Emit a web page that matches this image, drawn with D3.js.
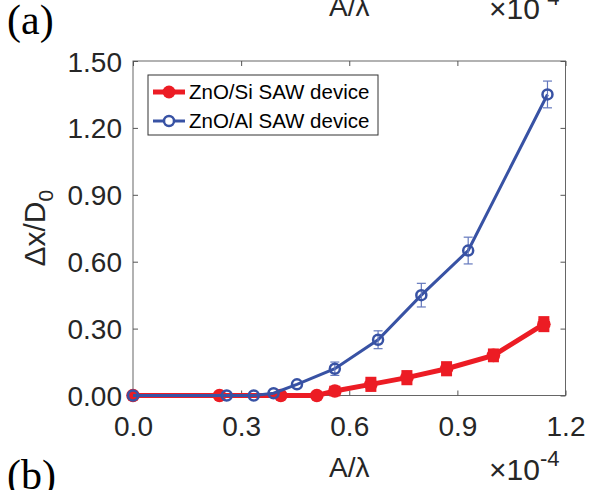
<!DOCTYPE html>
<html>
<head>
    <style type="text/css">
        body { margin: 0; background: #fff; }
        #mySvg { width: 589px; height: 490px; display: block; }
        .tick text { font-family: "Liberation Sans", Arial, sans-serif; font-size: 28px; fill: #262626; }
        .tick line { stroke: #555; }
        .domain { stroke: none; }
        .panel { font-family: "Liberation Serif", "Times New Roman", serif; font-size: 42px; fill: #000; }
        .lab { font-family: "Liberation Sans", Arial, sans-serif; fill: #262626; }
        .legend text { font-family: "Liberation Sans", Arial, sans-serif; font-size: 20.5px; fill: #000; }
    </style>
    <script src="https://d3js.org/d3.v7.min.js"></script>
</head>
<body>
    <svg id="mySvg"></svg>
</body>
<script type="text/javascript">
// ticks
var xTicks = [0, 0.3, 0.6, 0.9, 1.2];
var yTicks = [0, 0.3, 0.6, 0.9, 1.2, 1.5];

// ZnO/Si (red, filled)
var siName = 'ZnO/Si SAW device';
var siX   = [0, 0.24, 0.41, 0.51, 0.56, 0.66, 0.76, 0.87, 1.00, 1.14];
var siY   = [0, 0, 0, 0, 0.02, 0.05, 0.08, 0.12, 0.18, 0.32];
var siErr = [0, 0, 0, 0, 0.015, 0.025, 0.025, 0.025, 0.022, 0.027];

// ZnO/Al (blue, open)
var alName = 'ZnO/Al SAW device';
var alX   = [0, 0.26, 0.335, 0.39, 0.455, 0.56, 0.68, 0.80, 0.93, 1.15];
var alY   = [0, 0, 0, 0.01, 0.05, 0.12, 0.25, 0.45, 0.65, 1.35];
var alErr = [0, 0, 0, 0, 0, 0.03, 0.04, 0.053, 0.06, 0.06];

var red = '#ec1c24', blue = '#3852a4', blueErr = '#6478bd';

var svg = d3.select('#mySvg');
var L = 133, R = 565.5, T = 61, B = 395.5;

var x = d3.scaleLinear().domain([0, 1.2]).range([L, R]);
var y = d3.scaleLinear().domain([0, 1.5]).range([B, T]);

// frame
svg.append('rect')
    .attr('x', L).attr('y', T).attr('width', R - L).attr('height', B - T)
    .attr('fill', 'none').attr('stroke', '#666').attr('stroke-width', 1);

// axes, ticks inward on all four sides
svg.append('g').attr('transform', 'translate(0,' + B + ')')
    .call(d3.axisBottom(x).tickValues(xTicks).tickSize(-5).tickPadding(21).tickFormat(d3.format('.1f')));
svg.append('g').attr('transform', 'translate(0,' + T + ')')
    .call(d3.axisTop(x).tickValues(xTicks).tickSize(-5).tickFormat(''));
svg.append('g').attr('transform', 'translate(' + L + ',0)')
    .call(d3.axisLeft(y).tickValues(yTicks).tickSize(-5).tickPadding(11).tickFormat(d3.format('.2f')))
    .selectAll('text').attr('dy', '0.36em');
svg.append('g').attr('transform', 'translate(' + R + ',0)')
    .call(d3.axisRight(y).tickValues(yTicks).tickSize(-5).tickFormat(''));

function zip(xs, ys, es) {
    return xs.map((d, i) => ({x: d, y: ys[i], e: es[i]}));
}
var siData = zip(siX, siY, siErr);
var alData = zip(alX, alY, alErr);

var line = d3.line().x(d => x(d.x)).y(d => y(d.y));

// red series
svg.append('path').datum(siData)
    .attr('d', line).attr('fill', 'none').attr('stroke', red).attr('stroke-width', 5);
var siErrG = svg.append('g').attr('stroke', red).attr('stroke-width', 4);
siErrG.selectAll('line.bar').data(siData.filter(d => d.e > 0)).enter().append('line')
    .attr('x1', d => x(d.x)).attr('x2', d => x(d.x))
    .attr('y1', d => y(d.y - d.e)).attr('y2', d => y(d.y + d.e));
siErrG.selectAll('line.cap').data(siData.filter(d => d.e > 0).flatMap(d => [d.y - d.e, d.y + d.e].map(v => ({x: d.x, v: v})))).enter().append('line')
    .attr('x1', d => x(d.x) - 5.5).attr('x2', d => x(d.x) + 5.5)
    .attr('y1', d => y(d.v)).attr('y2', d => y(d.v));
svg.append('g').selectAll('circle').data(siData).enter().append('circle')
    .attr('cx', d => x(d.x)).attr('cy', d => y(d.y)).attr('r', 6.8).attr('fill', red);

// blue series
svg.append('path').datum(alData)
    .attr('d', line).attr('fill', 'none').attr('stroke', blue).attr('stroke-width', 3);
var alErrG = svg.append('g').attr('stroke', blueErr).attr('stroke-width', 1.2);
alErrG.selectAll('line.bar').data(alData.filter(d => d.e > 0)).enter().append('line')
    .attr('x1', d => x(d.x)).attr('x2', d => x(d.x))
    .attr('y1', d => y(d.y - d.e)).attr('y2', d => y(d.y + d.e));
alErrG.selectAll('line.cap').data(alData.filter(d => d.e > 0).flatMap(d => [d.y - d.e, d.y + d.e].map(v => ({x: d.x, v: v})))).enter().append('line')
    .attr('x1', d => x(d.x) - 4.5).attr('x2', d => x(d.x) + 4.5)
    .attr('y1', d => y(d.v)).attr('y2', d => y(d.v));
svg.append('g').selectAll('circle').data(alData).enter().append('circle')
    .attr('cx', d => x(d.x)).attr('cy', d => y(d.y)).attr('r', 5)
    .attr('fill', 'none').attr('stroke', blue).attr('stroke-width', 2.5);

// legend
var lg = svg.append('g').attr('class', 'legend');
lg.append('rect').attr('x', 148).attr('y', 75).attr('width', 230).attr('height', 60)
    .attr('fill', '#fff').attr('stroke', '#333').attr('stroke-width', 1);
var rows = [
    {name: siName, c: red, w: 5, filled: true, r: 6.5},
    {name: alName, c: blue, w: 3, filled: false, r: 5}
];
var row = lg.selectAll('g.row').data(rows).enter().append('g')
    .attr('class', 'row')
    .attr('transform', (d, i) => 'translate(0,' + (92 + i * 29) + ')');
row.append('line').attr('x1', 153).attr('x2', 185)
    .attr('stroke', d => d.c).attr('stroke-width', d => d.w);
row.append('circle').attr('cx', 169).attr('r', d => d.r)
    .attr('fill', d => d.filled ? d.c : '#fff')
    .attr('stroke', d => d.filled ? 'none' : d.c).attr('stroke-width', 2.5);
row.append('text').attr('x', 189).attr('dy', '0.36em').text(d => d.name);

// y label
svg.append('text').attr('class', 'lab')
    .attr('transform', 'translate(45,' + ((T + B) / 2) + ') rotate(-90)')
    .attr('text-anchor', 'middle').style('font-size', '30px')
    .call(t => {
        t.append('tspan').text('\u0394x/D');
        t.append('tspan').attr('dy', 8).style('font-size', '21px').text('0');
    });

// panel labels and x labels (this panel and the cut-off one above)
svg.append('text').attr('class', 'panel').attr('x', 7).attr('y', 34).text('(a)');
svg.append('text').attr('class', 'panel').attr('x', 7).attr('y', 489).text('(b)');

[16, 477].forEach(function(by) {
    svg.append('text').attr('class', 'lab')
        .attr('x', (L + R) / 2).attr('y', by).attr('text-anchor', 'middle')
        .style('font-size', '28px').text('A/\u03bb');
    var t = svg.append('text').attr('class', 'lab')
        .attr('x', 489).attr('y', by + 3).style('font-size', '30px');
    t.append('tspan').text('\u00d710');
    t.append('tspan').attr('dy', -14).style('font-size', '22px').text('-4');
});
</script>
</html>
